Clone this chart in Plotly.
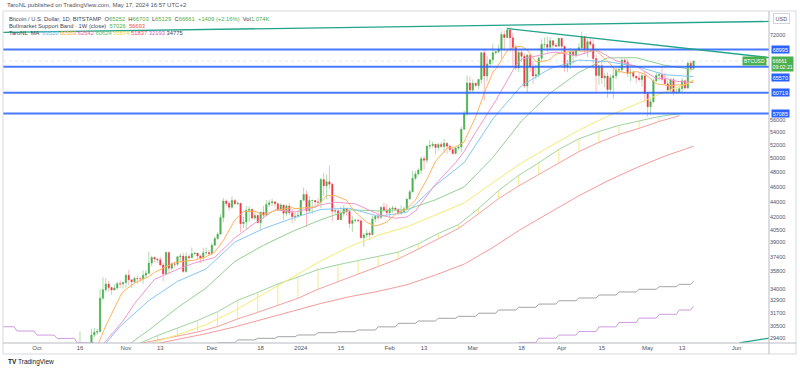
import math
import pandas as pd
import plotly.graph_objects as go

# ---------------- daily candles (BTCUSD, Bitstamp, 1D) ----------------
candle_start = "2023-10-15"
opens = [26860, 27160, 28510, 28400, 28330, 28720, 29680, 29920, 29990, 33090, 33920, 34500, 34150, 33900, 34090, 34540, 34500,
         34660, 35420, 34940, 34730, 35080, 35050, 35040, 35420, 35630, 36700, 37320, 37140, 37070, 36490, 35540, 37880, 36160, 36600, 36580, 37390, 37470, 35810, 37430, 37290, 37720, 37800, 37480, 37250, 37830, 37860,
         37720, 38690, 39470, 39980, 41980, 44080, 43770, 43290, 44170, 43720, 43790, 41240, 41450, 42890, 43030, 41930, 42240, 41360, 42660, 42270, 43650, 43860, 43990, 43730, 43010, 43580, 42520, 43440, 42600, 42100, 42150,
         42280, 44180, 44950, 42830, 44150, 44160, 43970, 43930, 46970, 46120, 46660, 46340, 42780, 42840, 41730, 42500, 43150, 42740, 41270, 41620, 41660, 41580, 39570, 39890, 40080, 39930, 41820, 42120, 42030, 43300, 42940,
         42580, 43080, 43190, 43010, 42580, 42700, 43090, 44340, 45300, 47150, 47770, 48290, 49960, 49740, 51830, 51940, 52140, 51660, 52120, 51780, 52280, 51850, 51320, 50740, 51570, 51730, 54490, 57080, 62500,
         61180, 62440, 62040, 63140, 68330, 63800, 66110, 66930, 68300, 68500, 69020, 72100, 71480, 73080, 71400, 69400, 65300, 68390, 67610, 61930, 67840, 65500, 63800, 64040, 67230, 69990, 69990, 69450, 70780, 69870, 69640,
         71300, 69650, 65450, 65980, 68500, 67840, 68900, 69360, 71620, 69140, 70590, 70060, 67160, 63900, 65740, 63420, 63790, 61280, 63470, 63820, 64940, 64960, 66840, 66410, 64290, 64500, 63750, 63420, 63110, 63840,
         60610, 58250, 59120, 62890, 63890, 64030, 63160, 62330, 61190, 63070, 60790, 60800, 61450, 62900, 61550, 66250, 65252]
highs = [27290, 30000, 28610, 28990, 28920, 30220, 30310, 30210, 34000, 35200, 35130, 34830, 34250, 34470, 34740, 34870, 34720,
         35560, 35960, 34950, 35260, 35370, 35270, 35900, 35960, 37960, 37510, 37420, 37240, 37400, 36750, 37980, 37920, 36850, 36850, 37520, 37760, 37850, 37880, 37660, 38430, 37900, 37830, 37590, 38400, 38420, 38150,
         38990, 39690, 40200, 42410, 44480, 44310, 44080, 44700, 44360, 44040, 43800, 42100, 43440, 43410, 43090, 42720, 42430, 42750, 43470, 44240, 44280, 44390, 44020, 43940, 43790, 43610, 43670, 43800, 43120, 42600, 42890,
         44200, 45900, 45500, 44730, 44290, 44230, 44490, 47240, 47900, 47690, 48970, 46500, 43260, 43080, 43380, 43570, 43190, 42930, 42170, 41860, 41880, 41670, 40130, 40550, 40290, 42200, 42200, 42800, 43300, 43860, 43740,
         43270, 43480, 43380, 43110, 43530, 43380, 44370, 45590, 48180, 48160, 48560, 50300, 50360, 52020, 52810, 52560, 52170, 52340, 52500, 52980, 52380, 52070, 51540, 51710, 51960, 54920, 57560, 63900, 63680,
         63140, 62460, 63220, 68500, 69000, 67640, 67000, 70130, 68650, 70000, 72780, 72940, 73630, 73800, 72400, 70020, 68900, 68930, 68100, 68050, 68200, 66630, 65970, 67600, 71100, 71500, 71700, 71500, 70900, 70300, 71350,
         71330, 69680, 66930, 69280, 68730, 69010, 70300, 72750, 71750, 71170, 71280, 71220, 67930, 65840, 66860, 64360, 64480, 64100, 65420, 65400, 65690, 67200, 67180, 67060, 65270, 64800, 63900, 64340, 64220, 64720,
         60780, 59580, 63320, 64500, 64610, 65490, 64360, 62980, 63420, 63440, 61470, 61830, 63440, 63100, 66440, 66750, 66703]
lows = [26800, 27120, 28100, 28130, 28180, 28600, 29480, 29680, 29890, 32900, 33700, 33750, 33420, 33860, 33930, 34080, 34050,
        34120, 34350, 34100, 34590, 34550, 34750, 34520, 35120, 35560, 36360, 36750, 36720, 36350, 34800, 35370, 35560, 35920, 36220, 36390, 36770, 35660, 35650, 36880, 37270, 37620, 37160, 36740, 36880, 37600, 37510,
        37630, 38660, 39290, 39980, 41430, 43430, 42850, 43080, 43590, 43590, 40240, 40700, 40620, 41450, 41670, 41680, 41270, 40530, 41840, 42190, 43340, 43420, 43320, 42790, 42760, 41670, 42130, 42310, 41330, 41530, 41980,
        42170, 44180, 40800, 42630, 42440, 43420, 43600, 43200, 44750, 44300, 45620, 41510, 42430, 41720, 41710, 42100, 42200, 40680, 40270, 41440, 41500, 39450, 38520, 39500, 39260, 39820, 41410, 41650, 41810, 42690, 42300,
        41880, 42580, 42890, 42260, 42260, 42580, 42790, 44330, 45250, 46860, 47530, 47740, 48400, 49300, 51340, 51600, 50650, 51180, 51590, 50800, 50650, 50950, 50540, 50600, 51290, 50920, 54470, 56700, 60400,
        60790, 61660, 61340, 62370, 59300, 62840, 65620, 66100, 67990, 68260, 67180, 68800, 71350, 68600, 65650, 64800, 64550, 66590, 61550, 60800, 64550, 62300, 63120, 63520, 66420, 69260, 68400, 68900, 69100, 69530, 69620,
        68100, 64580, 64500, 65070, 66010, 67270, 68800, 69060, 68230, 67500, 69570, 65100, 60900, 62130, 62300, 61700, 59800, 60820, 59700, 63170, 64270, 64540, 65860, 63600, 62800, 63330, 62420, 62840, 61820, 59120,
        56550, 56930, 58830, 62580, 62950, 62760, 62310, 60870, 60640, 60180, 60450, 60640, 60770, 61140, 61350, 64630, 65129]
closes = [27160, 28510, 28400, 28330, 28720, 29680, 29920, 29990, 33090, 33920, 34500, 34150, 33900, 34090, 34540, 34500, 34660,
          35420, 34940, 34730, 35080, 35050, 35040, 35420, 35630, 36700, 37320, 37140, 37070, 36490, 35540, 37880, 36160, 36600, 36580, 37390, 37470, 35810, 37430, 37290, 37720, 37800, 37480, 37250, 37830, 37860, 37720,
          38690, 39470, 39980, 41980, 44080, 43770, 43290, 44170, 43720, 43790, 41240, 41450, 42890, 43030, 41930, 42240, 41360, 42660, 42270, 43650, 43860, 43990, 43730, 43010, 43580, 42520, 43440, 42600, 42100, 42150, 42280,
          44180, 44950, 42830, 44150, 44160, 43970, 43930, 46970, 46120, 46660, 46340, 42780, 42840, 41730, 42500, 43150, 42740, 41270, 41620, 41660, 41580, 39570, 39890, 40080, 39930, 41820, 42120, 42030, 43300, 42940, 42580,
          43080, 43190, 43010, 42580, 42700, 43090, 44340, 45300, 47150, 47770, 48290, 49960, 49740, 51830, 51940, 52140, 51660, 52120, 51780, 52280, 51850, 51320, 50740, 51570, 51730, 54490, 57080, 62500, 61180,
          62440, 62040, 63140, 68330, 63800, 66110, 66930, 68300, 68500, 69020, 72100, 71480, 73080, 71400, 69400, 65300, 68390, 67610, 61930, 67840, 65500, 63800, 64040, 67230, 69990, 69990, 69450, 70780, 69870, 69640, 71300,
          69650, 65450, 65980, 68500, 67840, 68900, 69360, 71620, 69140, 70590, 70060, 67160, 63900, 65740, 63420, 63790, 61280, 63470, 63820, 64940, 64960, 66840, 66410, 64290, 64500, 63750, 63420, 63110, 63840, 60610,
          58250, 59120, 62890, 63890, 64030, 63160, 62330, 61190, 63070, 60790, 60800, 61450, 62900, 61550, 66250, 65230, 66661]

# ---------------- moving averages ----------------
fast_ma_dates = ["2023-10-20", "2023-10-21", "2023-10-25", "2023-10-28", "2023-10-30", "2023-10-31", "2023-11-04", "2023-11-09", "2023-11-11",
                 "2023-11-18", "2023-11-19", "2023-11-25", "2023-11-29", "2023-12-02", "2023-12-05", "2023-12-09", "2023-12-12", "2023-12-16",
                 "2023-12-19", "2023-12-23", "2023-12-29", "2023-12-30", "2024-01-06", "2024-01-08", "2024-01-10", "2024-01-13", "2024-01-17",
                 "2024-01-18", "2024-01-20", "2024-01-24", "2024-01-27", "2024-01-28", "2024-01-31", "2024-02-03", "2024-02-07", "2024-02-10",
                 "2024-02-14", "2024-02-17", "2024-02-21", "2024-02-24", "2024-02-27", "2024-02-28", "2024-03-02", "2024-03-05", "2024-03-08",
                 "2024-03-09", "2024-03-13", "2024-03-16", "2024-03-18", "2024-03-20", "2024-03-23", "2024-03-27", "2024-03-28", "2024-03-30",
                 "2024-04-06", "2024-04-07", "2024-04-10", "2024-04-13", "2024-04-17", "2024-04-20", "2024-04-24", "2024-04-27", "2024-04-30",
                 "2024-05-04", "2024-05-07", "2024-05-08", "2024-05-11", "2024-05-14", "2024-05-17"]
fast_ma_vals = [27815, 28120, 30506, 32196, 33260, 33734, 34601, 35267, 35705,
                36748, 36817, 37025, 37394, 37911, 39234, 41687, 42747, 42775,
                42286, 42872, 43248, 43098, 43337, 43957, 44792, 44792, 44183,
                43613, 42663, 41406, 40954, 41030, 41426, 42400, 43081, 44221,
                47017, 49578, 51530, 51740, 52496, 53534, 56509, 60673, 64477,
                65077, 68765, 69551, 69628, 68853, 66521, 66738, 67055, 68029,
                68791, 68649, 68703, 68707, 66670, 64758, 64322, 64640, 64173,
                62338, 62123, 61931, 62127, 62127, 62989]

pink_ma_dates = ["2023-10-20", "2023-10-30", "2023-10-31", "2023-11-04", "2023-11-09", "2023-11-11", "2023-11-18", "2023-11-19", "2023-11-25",
                 "2023-11-29", "2023-12-02", "2023-12-09", "2023-12-16", "2023-12-19", "2023-12-23", "2023-12-29", "2023-12-30", "2024-01-06",
                 "2024-01-08", "2024-01-13", "2024-01-18", "2024-01-20", "2024-01-27", "2024-01-28", "2024-02-03", "2024-02-07", "2024-02-10",
                 "2024-02-17", "2024-02-24", "2024-02-27", "2024-03-02", "2024-03-08", "2024-03-09", "2024-03-16", "2024-03-18", "2024-03-23",
                 "2024-03-28", "2024-03-30", "2024-04-06", "2024-04-07", "2024-04-13", "2024-04-17", "2024-04-20", "2024-04-27", "2024-05-04",
                 "2024-05-07", "2024-05-11", "2024-05-17"]
pink_ma_vals = [27758, 30538, 30927, 32554, 34264, 34991, 35898, 36042, 36724,
                37106, 37323, 39541, 41319, 41987, 42955, 42767, 42685, 43304,
                43603, 43928, 43785, 43728, 42569, 42322, 41903, 42056, 42824,
                46330, 49379, 51037, 54020, 58487, 59306, 65831, 67053, 67643,
                68342, 68441, 67765, 67852, 68958, 67660, 66731, 65655, 63330,
                63382, 62815, 62556]

grid_dates = ["2023-10-20", "2023-10-30", "2023-11-09", "2023-11-19", "2023-11-29", "2023-12-09", "2023-12-19", "2023-12-29",
              "2024-01-08", "2024-01-18", "2024-01-28", "2024-02-07", "2024-02-17", "2024-02-27", "2024-03-08", "2024-03-18",
              "2024-03-28", "2024-04-07", "2024-04-17", "2024-04-27", "2024-05-07", "2024-05-17"]
blue_ma_vals = [27549, 30447, 32857, 34776, 36077, 39057, 40635, 41883, 43011, 43152, 42153, 42638, 46171, 49396, 56200, 62000,
                65217, 66863, 66540, 65645, 64017, 63668]
green_ma_vals = [26863, 28335, 30108, 32172, 34111, 36885, 38690, 40286, 41714, 42958, 42827, 42986, 44252, 45960, 50132, 55852,
                 60647, 64461, 67296, 67328, 65827, 65014]
yellow_ma_vals = [27700, 28300, 28900, 29700, 30600, 31900, 33513, 35197, 36943, 38534, 39856, 40838, 42269, 43837, 46545, 49339,
                  51816, 54356, 56628, 58730, 60840, 62831]
red_ma_vals = [28000, 28300, 28800, 29300, 29800, 30400, 31100, 31850, 32577, 33232, 33764, 34423, 35437, 36591, 38435, 40607,
               42664, 44777, 46785, 48632, 50348, 51834]

# Bullmarket Support Band (weekly, plotted at week end)
band_dates = ["2023-10-15", "2023-10-22", "2023-10-29", "2023-11-05", "2023-11-12", "2023-11-19", "2023-11-26", "2023-12-03",
              "2023-12-10", "2023-12-17", "2023-12-24", "2023-12-31", "2024-01-07", "2024-01-14", "2024-01-21", "2024-01-28",
              "2024-02-04", "2024-02-11", "2024-02-18", "2024-02-25", "2024-03-03", "2024-03-10", "2024-03-17", "2024-03-24",
              "2024-03-31", "2024-04-07", "2024-04-14", "2024-04-21", "2024-04-28", "2024-05-05", "2024-05-12"]
band_ema21 = [27395, 27631, 28259, 28876, 29621, 30327, 30977, 31795, 32885, 33655, 34505, 35212, 36004, 36524, 36984, 37443,
              37910, 38854, 40060, 41121, 43123, 45477, 47560, 49348, 51343, 52981, 54141, 55124, 55850, 56594, 57035]
band_sma20 = [27892, 28037, 28471, 28907, 29236, 29576, 29941, 30428, 31129, 31733, 32431, 33080, 33971, 34758, 35544, 36354,
              37157, 38258, 39465, 40655, 42454, 44405, 46098, 47707, 49418, 51017, 52430, 53679, 54645, 55778, 56700]

# weekly step MAs (week start, value)
purple_weeks_a = ["2023-09-17", "2023-09-24", "2023-10-01", "2023-10-08", "2023-10-15"]
purple_vals_a = [30410, 30030, 29670, 29380, 29000]
purple_weeks_b = ["2024-03-17", "2024-03-24", "2024-03-31", "2024-04-07", "2024-04-14", "2024-04-21", "2024-04-28", "2024-05-05", "2024-05-12"]
purple_vals_b = [29020, 29400, 29670, 29980, 30400, 30800, 31200, 31550, 31950]
purple_last = 32300
gray_weeks = ["2023-12-03", "2023-12-10", "2023-12-17", "2023-12-24", "2023-12-31", "2024-01-07", "2024-01-14", "2024-01-21",
              "2024-01-28", "2024-02-04", "2024-02-11", "2024-02-18", "2024-02-25", "2024-03-03", "2024-03-10", "2024-03-17",
              "2024-03-24", "2024-03-31", "2024-04-07", "2024-04-14", "2024-04-21", "2024-04-28", "2024-05-05", "2024-05-12"]
gray_vals = [29000, 29250, 29390, 29530, 29680, 29880, 29970, 30120, 30400, 30720, 30930, 31180, 31360, 31650, 31950, 32210,
             32520, 32840, 33110, 33400, 33700, 33970, 34230, 34470]
gray_last = 34775
last_bar = "2024-05-17"

# drawn levels and trendlines
levels = [68995, 65570, 60719, 57085]
trend_top = (["2023-09-18", "2024-06-13"], [72550, 74950])
trend_ath = (["2024-03-13", "2024-06-13"], [73400, 67320])
trend_low = (["2024-06-02", "2024-06-13"], [28990, 29430])
last_price = 66661

x_ticks = ["2023-10-01", "2023-10-16", "2023-11-01", "2023-11-13", "2023-12-01", "2023-12-18", "2024-01-01", "2024-01-15",
           "2024-02-01", "2024-02-13", "2024-03-01", "2024-03-18", "2024-04-01", "2024-04-15", "2024-05-01", "2024-05-13", "2024-06-01"]
x_labels = ["Oct", "16", "Nov", "13", "Dec", "18", "2024", "15", "Feb", "13", "Mar", "18", "Apr", "15", "May", "13", "Jun"]
y_ticks = [72000, 56000, 54000, 52000, 50000, 48000, 46000, 44000, 42000, 40500, 39000, 37400, 35800, 34000, 32900, 31700, 30500, 29400]

X_RANGE = ["2023-09-19 03:20", "2024-06-12 07:40"]
Y_RANGE = [math.log10(28985), math.log10(77290)]
FONT = "Liberation Sans, Arial, sans-serif"
UP, DOWN = "#4caf50", "#f23645"
TEAL = "#22a38c"
LEVEL_BLUE = "rgba(41,98,255,0.85)"


def steps(starts, vals, last_date=None, last_val=None):
    xs, ys = [], []
    end_cap = pd.Timestamp(last_date) - pd.Timedelta(days=1) if last_date else None
    for s, v in zip(starts, vals):
        a = pd.Timestamp(s)
        b = a + pd.Timedelta(days=6)
        if end_cap is not None and b > end_cap:
            b = end_cap
        xs += [a, b]
        ys += [v, v]
    if last_date:
        xs.append(pd.Timestamp(last_date))
        ys.append(last_val)
    return xs, ys


dates = pd.date_range(candle_start, periods=len(closes), freq="D")
fig = go.Figure()


def line(x, y, color, width=1, dash=None):
    fig.add_trace(go.Scatter(x=x, y=y, mode="lines", hoverinfo="skip", showlegend=False,
                             line=dict(color=color, width=width, dash=dash)))


# band fill ticks (weekly verticals)
vx, vy = [], []
for d, a, b in zip(band_dates, band_sma20, band_ema21):
    vx += [d, d, None]
    vy += [a, b, None]
line(vx, vy, "#f3e98a", 1)

# step MAs
px_, py_ = steps(purple_weeks_a, purple_vals_a)
line(px_, py_, "#cf9be0", 1)
px_, py_ = steps(purple_weeks_b, purple_vals_b, last_bar, purple_last)
line(px_, py_, "#cf9be0", 1)
gx, gy = steps(gray_weeks, gray_vals, last_bar, gray_last)
line(gx, gy, "#a3a3a3", 1)

# smooth MAs
line(grid_dates, red_ma_vals, "#f79a9a", 1)
line(band_dates, band_sma20, "#f6a0a0", 1)
line(band_dates, band_ema21, "#9fd59f", 1)
line(grid_dates, yellow_ma_vals, "#f7ea72", 1)
line(grid_dates, green_ma_vals, "#93d093", 1)
line(grid_dates, blue_ma_vals, "#86c6f7", 1)
line(pink_ma_dates, pink_ma_vals, "#ee97cf", 1)
line(fast_ma_dates, fast_ma_vals, "#ffb35c", 1)

# horizontal levels and price line
for lv in levels:
    line(X_RANGE, [lv, lv], LEVEL_BLUE, 2)
line(X_RANGE, [last_price, last_price], "rgba(76,175,80,0.2)", 1, "dot")

# trendlines
for tx, ty in (trend_top, trend_ath, trend_low):
    line(tx, ty, TEAL, 1.3)

# candles: wicks (pale) then bodies
fig.add_trace(go.Candlestick(x=dates, open=opens, high=highs, low=lows, close=closes, hoverinfo="skip", showlegend=False,
                             increasing=dict(line=dict(color="rgba(76,175,80,0.45)", width=1), fillcolor="rgba(76,175,80,0.45)"),
                             decreasing=dict(line=dict(color="rgba(242,54,69,0.35)", width=1), fillcolor="rgba(242,54,69,0.35)")))
body_hi = [max(o, c) for o, c in zip(opens, closes)]
body_lo = [min(o, c) for o, c in zip(opens, closes)]
fig.add_trace(go.Candlestick(x=dates, open=opens, high=body_hi, low=body_lo, close=closes, hoverinfo="skip", showlegend=False,
                             increasing=dict(line=dict(color=UP, width=0), fillcolor=UP),
                             decreasing=dict(line=dict(color=DOWN, width=0), fillcolor=DOWN)))


def pxx(p):
    return (p - 3) / 766


def pxy(p):
    return (343 - p) / 332


ann = []


def text(x, y, t, size=5.8, color="#434651", xanchor="left", **kw):
    ann.append(dict(xref="paper", yref="paper", x=pxx(x), y=pxy(y), text=t, showarrow=False, xanchor=xanchor,
                    yanchor="middle", font=dict(family=FONT, size=size, color=color), **kw))


def span(t, c):
    return f"<span style='color:{c}'>{t}</span>"


G = "#4caf50"
text(5, 5, "TaroNL published on TradingView.com, May 17, 2024 16:57 UTC+2", 6, "#50535e")
text(7, 19, "Bitcoin / U.S. Dollar, 1D, BITSTAMP  O" + span("65252", G) + "  H" + span("66703", G) + "  L" + span("65129", G)
     + "  C" + span("66661", G) + "  " + span("+1409 (+2.16%)", G) + "  Vol" + span("1.074K", G))
text(7, 26, "Bullmarket Support Band · 1W (close)  " + span("57026", G) + "  " + span("56693", "#ef5350"))
ma_cols = ["#64b5f6", "#ffa726", "#f06292", "#66bb6a", "#f0d232", "#ef5350", "#ba68c8", "#434651"]
ma_legend_vals = ["63520", "60559", "62542", "60624", "55874", "51837", "32193", "34775"]
text(7, 33, "TaroNL  MA  " + " ".join(span(v, c) for v, c in zip(ma_legend_vals, ma_cols)))
text(6, 362, "<b>TV</b> TradingView", 6.5, "#131722")

# price-axis labels (current price first so the shifted level label sits on top)
ann.append(dict(xref="paper", yref="y", x=pxx(771), y=math.log10(last_price), yshift=5, text="66661<br>09:02:21",
                showarrow=False, xanchor="left", yanchor="top", bgcolor=UP, borderpad=0.5, align="left",
                font=dict(family=FONT, size=5.2, color="white")))
for lv, shift in ((68995, 0), (65570, -10.5), (60719, 0), (57085, 0)):
    ann.append(dict(xref="paper", yref="y", x=pxx(771), y=math.log10(lv), yshift=shift, text=str(lv), showarrow=False,
                    xanchor="left", yanchor="middle", bgcolor="#2962ff", borderpad=0.7,
                    font=dict(family=FONT, size=5.5, color="white")))
ann.append(dict(xref="paper", yref="y", x=pxx(767), y=math.log10(last_price), text="BTCUSD", showarrow=False,
                xanchor="right", yanchor="middle", bgcolor=UP, borderpad=1, font=dict(family=FONT, size=5, color="white")))
ann.append(dict(xref="paper", yref="paper", x=pxx(782), y=pxy(19), text="USD", showarrow=False, xanchor="center",
                yanchor="middle", bgcolor="white", bordercolor="#d1d4dc", borderwidth=1, borderpad=1.5,
                font=dict(family=FONT, size=5.5, color="#50535e")))

frame = "#d6d9e0"
shapes = [
    dict(type="rect", xref="paper", yref="paper", x0=pxx(3), x1=pxx(796), y0=pxy(354), y1=pxy(11),
         line=dict(color=frame, width=1)),
    dict(type="line", xref="paper", yref="paper", x0=pxx(769), x1=pxx(769), y0=pxy(354), y1=pxy(11),
         line=dict(color="#b8bbc3", width=1)),
    dict(type="line", xref="paper", yref="paper", x0=pxx(3), x1=pxx(796), y0=pxy(343), y1=pxy(343),
         line=dict(color="#b8bbc3", width=1)),
]

fig.update_layout(
    width=800, height=370, margin=dict(l=3, r=31, t=11, b=27),
    paper_bgcolor="white", plot_bgcolor="white", showlegend=False,
    font=dict(family=FONT, size=6, color="#50535e"),
    annotations=ann, shapes=shapes,
    xaxis=dict(type="date", range=X_RANGE, rangeslider=dict(visible=False), showgrid=False, zeroline=False,
               tickvals=x_ticks, ticktext=x_labels, ticks="", tickfont=dict(size=6, color="#50535e", family=FONT)),
    yaxis=dict(type="log", range=Y_RANGE, side="right", showgrid=False, zeroline=False, ticks="",
               tickvals=y_ticks, ticktext=[str(v) for v in y_ticks],
               tickfont=dict(size=5.5, color="#50535e", family=FONT)),
)

fig.write_html("out.html", config={"displayModeBar": False},
               post_script="document.body.style.margin='0';document.body.style.padding='0';document.body.style.overflow='hidden';")
